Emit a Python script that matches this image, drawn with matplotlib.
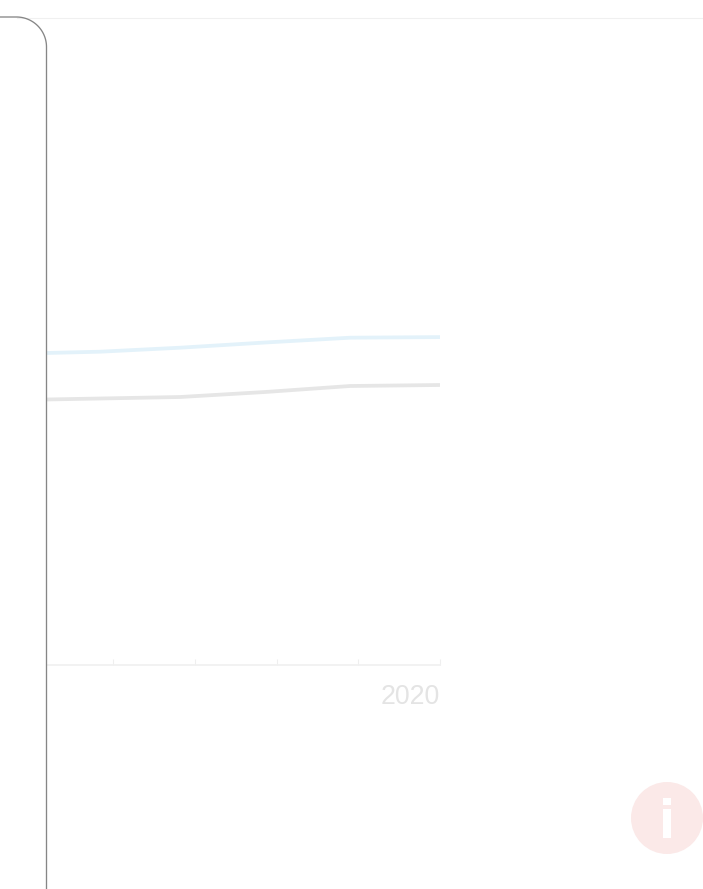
import numpy as np
import matplotlib
matplotlib.use("Agg")
import matplotlib.pyplot as plt
from matplotlib.patches import Circle, Rectangle

W, H = 703, 889

years = [2015.18, 2015.84, 2016.82, 2017.86, 2018.9, 2020]
tick_years = [2016, 2017, 2018, 2019, 2020]
tick_labels = ["", "", "", "", "2020"]

# values, the scale is not shown in the chart
blue_series = [311.5, 312.8, 316.8, 322, 326.8, 327.4]
grey_series = [265, 266, 267.5, 272.5, 278.5, 279.5]

plt.rcParams["font.family"] = ["Liberation Sans", "DejaVu Sans"]

fig = plt.figure(figsize=(W / 100, H / 100), dpi=100, facecolor="white")

# chart area, 47..440 px across and 17..664 px down
ax = fig.add_axes([47 / W, 1 - 664.5 / H, (440 - 47) / W, (664.5 - 17) / H])
ax.patch.set_alpha(0)
ax.plot(years, blue_series, color="#e3f2fa", lw=2.7, solid_capstyle="round", solid_joinstyle="round")
ax.plot(years, grey_series, color="#e6e6e6", lw=2.7, solid_capstyle="round", solid_joinstyle="round")
ax.set_xlim(2020 - (440 - 47) / 81.7, 2020)
ax.set_ylim(0, 647.5)
ax.set_xticks(tick_years)
ax.set_xticklabels(tick_labels, fontsize=19.3, color="#e4e4e4", ha="right")
ax.set_yticks([])
ax.tick_params(axis="x", direction="in", length=4.5, width=0.8, color="#efefef", pad=14)
for name in ["top", "right", "left"]:
    ax.spines[name].set_visible(False)
ax.spines["bottom"].set_color("#f1f1f1")
ax.spines["bottom"].set_linewidth(1.3)

# overlay in pixel coordinates for the frame and the info icon
over = fig.add_axes([0, 0, 1, 1])
over.set_xlim(0, W)
over.set_ylim(H, 0)
over.axis("off")
over.patch.set_alpha(0)

over.plot([17, W], [17.5, 17.5], color="#f0f0f0", lw=0.8)

# rounded corner of the side panel
radius = 30
angle = np.linspace(-np.pi / 2, 0, 40)
frame_x = np.concatenate([[0], 46.5 - radius + radius * np.cos(angle), [46.5]])
frame_y = np.concatenate([[17], 17 + radius + radius * np.sin(angle), [H]])
over.plot(frame_x, frame_y, color="#868686", lw=0.95)

over.add_patch(Circle((667, 818), 36, facecolor="#fbe9e8", edgecolor="none"))
over.add_patch(Rectangle((662.7, 798), 8.6, 6.8, facecolor="white", edgecolor="none"))
over.add_patch(Rectangle((662.7, 808.7), 8.6, 29.6, facecolor="white", edgecolor="none"))

fig.savefig("out.png", dpi=100)
